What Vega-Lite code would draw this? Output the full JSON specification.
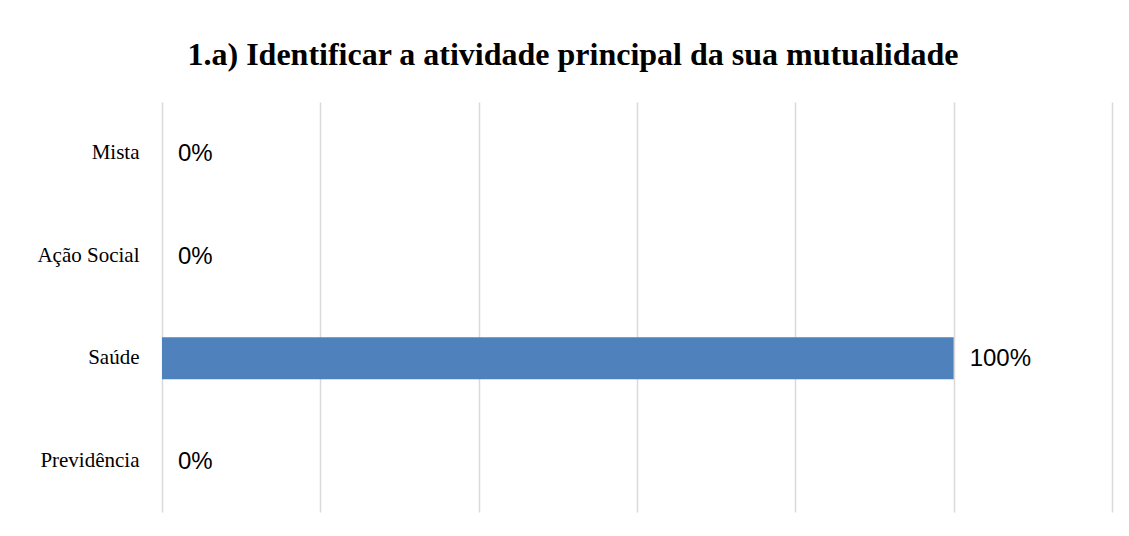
{
  "$schema": "https://vega.github.io/schema/vega-lite/v6.json",
  "width": 950,
  "height": 410,
  "autosize": {"type": "none"},
  "padding": {"left": 162, "top": 102, "right": 17, "bottom": 24},
  "background": "white",
  "title": {
    "text": "1.a) Identificar a atividade principal da sua mutualidade",
    "font": "Liberation Serif",
    "fontSize": 32,
    "fontWeight": "bold",
    "color": "#000000",
    "anchor": "middle",
    "dx": -64,
    "offset": 30
  },
  "data": {
    "values": [
      {"categoria": "Mista", "valor": 0},
      {"categoria": "Ação Social", "valor": 0},
      {"categoria": "Saúde", "valor": 1},
      {"categoria": "Previdência", "valor": 0}
    ]
  },
  "encoding": {
    "y": {
      "field": "categoria",
      "type": "nominal",
      "sort": ["Mista", "Ação Social", "Saúde", "Previdência"],
      "scale": {"paddingInner": 0.59, "paddingOuter": 0.295},
      "axis": {
        "title": null,
        "domain": false,
        "ticks": false,
        "labelPadding": 23,
        "labelFont": "Liberation Serif",
        "labelFontSize": 21,
        "labelColor": "#000000"
      }
    },
    "x": {
      "field": "valor",
      "type": "quantitative",
      "scale": {"domain": [0, 1.2], "nice": false},
      "axis": {
        "values": [0, 0.2, 0.4, 0.6, 0.8, 1.0, 1.2],
        "labels": false,
        "ticks": false,
        "domain": false,
        "title": null,
        "grid": true,
        "gridColor": "#d9d9d9",
        "gridWidth": 1.5
      }
    }
  },
  "layer": [
    {"mark": {"type": "bar", "color": "#4f81bd"}},
    {
      "mark": {
        "type": "text",
        "align": "left",
        "baseline": "middle",
        "dx": 16,
        "dy": 1,
        "font": "Liberation Sans",
        "fontSize": 24,
        "color": "#000000"
      },
      "encoding": {
        "text": {"field": "valor", "type": "quantitative", "format": ".0%"}
      }
    }
  ],
  "config": {"view": {"stroke": null}}
}
